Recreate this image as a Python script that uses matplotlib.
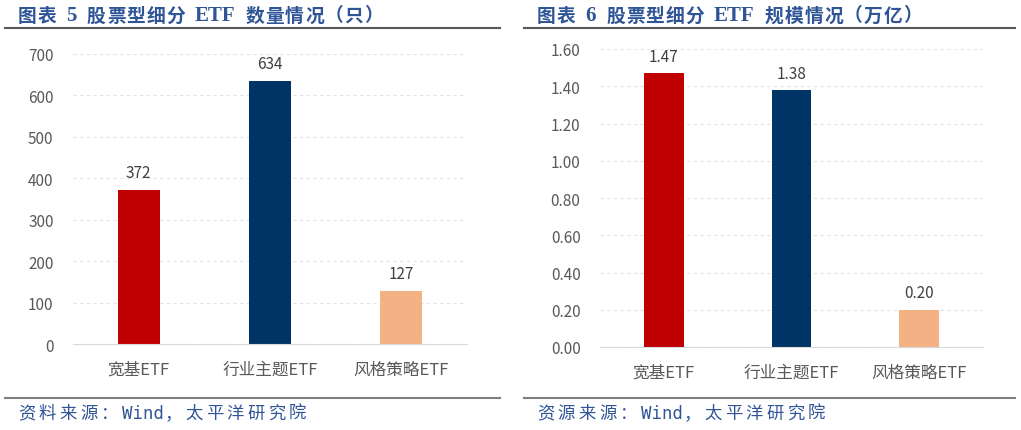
import matplotlib.pyplot as plt
from matplotlib.lines import Line2D

plt.rcParams['font.family'] = ['Noto Sans CJK SC', 'DejaVu Sans']

categories = ['宽基ETF', '行业主题ETF', '风格策略ETF']
counts = [372, 634, 127]
scale = [1.47, 1.38, 0.20]
colors = ['#C00000', '#003366', '#F4B183']

W, H = 1021, 431
fig = plt.figure(figsize=(W / 100, H / 100), dpi=100)
renderer = fig.canvas.get_renderer()

title_color = '#2F5597'
tick_color = '#595959'


def px_axes(x0, y0, x1, y1):
    # pixel box (top-left origin) -> figure axes
    return fig.add_axes([x0 / W, 1 - y1 / H, (x1 - x0) / W, (y1 - y0) / H])


def spaced_text(x, y, s, cjk_adv, space_adv, latin_kw=None, **kw):
    # CJK chars at a fixed pitch (like the Song font of the original),
    # latin runs drawn whole and measured
    latin_kw = latin_kw or {}
    run = ''
    for ch in s + '\0':
        if ch != '\0' and ord(ch) < 128 and ch != ' ':
            run += ch
            continue
        if run:
            t = fig.text(x / W, 1 - y / H, run, ha='left', va='center', **{**kw, **latin_kw})
            x += t.get_window_extent(renderer).width + 1
            run = ''
        if ch == '\0':
            break
        if ch == ' ':
            x += space_adv
            continue
        fig.text(x / W, 1 - y / H, ch, ha='left', va='center', **kw)
        x += cjk_adv


def panel(x0, x1, title, source):
    spaced_text(x0 + 13, 16, title, 19.8, 9, fontsize=13.5,
                fontweight='bold', color=title_color,
                latin_kw={'family': 'Liberation Serif', 'fontsize': 15, 'fontweight': 'bold'})
    fig.add_artist(Line2D([x0 / W, x1 / W], [1 - 29 / H] * 2, color='#595959', lw=1.5))
    fig.add_artist(Line2D([x0 / W, x1 / W], [1 - 399 / H] * 2, color='#7F7F7F', lw=1.5))
    spaced_text(x0 + 13, 414, source, 20.7, 8, fontsize=12.5, color=title_color,
                latin_kw={'family': 'DejaVu Sans Mono', 'fontsize': 12.5})


def style(ax, ymax, step, fmt):
    ax.set_xlim(-0.5, 2.5)
    ax.set_ylim(0, ymax)
    ticks = [i * step for i in range(int(round(ymax / step)) + 1)]
    ax.set_yticks(ticks)
    ax.set_yticklabels([fmt.format(t) for t in ticks])
    for s in ['top', 'right', 'left']:
        ax.spines[s].set_visible(False)
    ax.spines['bottom'].set_color('#D9D9D9')
    ax.tick_params(axis='both', length=0, colors=tick_color, labelsize=11)
    ax.tick_params(axis='x', labelsize=12, pad=12)
    ax.tick_params(axis='y', pad=14)
    ax.yaxis.grid(True, color='#E3E3E3', linestyle=(0, (3, 3)), lw=0.8)
    ax.set_axisbelow(True)


# left panel
panel(5, 500, '图表 5 股票型细分 ETF 数量情况（只）', '资料来源：Wind，太平洋研究院')
ax1 = px_axes(73, 55, 467, 345)
ax1.bar(categories, counts, width=0.32, color=colors)
for i, v in enumerate(counts):
    ax1.text(i, v + 22, str(v), ha='center', va='bottom', fontsize=11, color='#404040')
style(ax1, 700, 100, '{:.0f}')

# right panel
panel(524, 1015, '图表 6 股票型细分 ETF 规模情况（万亿）', '资源来源：Wind，太平洋研究院')
ax2 = px_axes(600, 50, 983, 348)
ax2.bar(categories, scale, width=0.31, color=colors)
for i, v in enumerate(scale):
    ax2.text(i, v + 0.045, f'{v:.2f}', ha='center', va='bottom', fontsize=11, color='#404040')
style(ax2, 1.6, 0.2, '{:.2f}')

fig.savefig('out.png', dpi=100)
